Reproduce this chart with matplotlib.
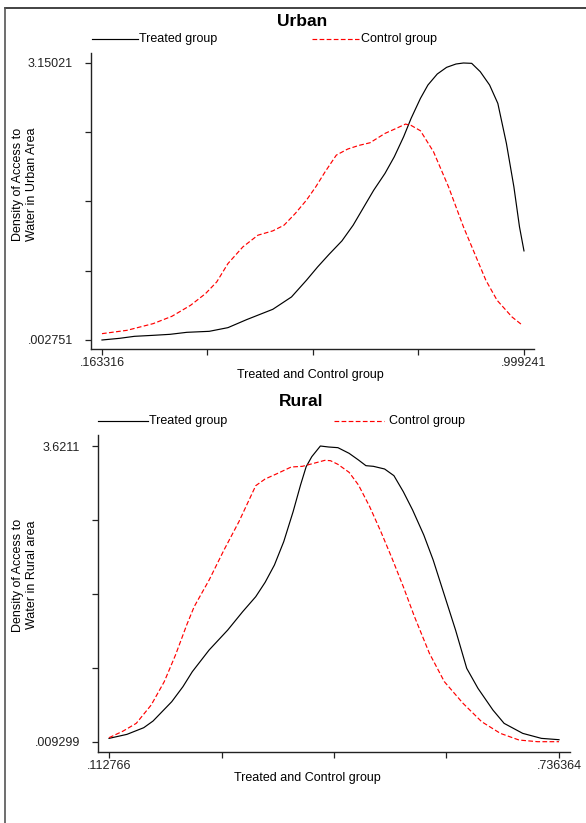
import numpy as np
import matplotlib
matplotlib.use("Agg")
import matplotlib.pyplot as plt
from matplotlib.lines import Line2D

plt.rcParams['font.family'] = ['Liberation Sans', 'DejaVu Sans']

# ---- data (kernel densities) ----
urban_tr_x = [0.1633, 0.1981, 0.2277, 0.2647, 0.2981, 0.3314, 0.3758, 0.4128, 0.4498, 0.5017,
              0.5387, 0.5683, 0.5905, 0.6127, 0.6386, 0.6608, 0.6868, 0.7016, 0.7238, 0.7423,
              0.7608, 0.7756, 0.7941, 0.8089, 0.8274, 0.8459, 0.8645, 0.8793, 0.8956, 0.9126,
              0.9311, 0.9474, 0.9644, 0.9792, 0.9903, 0.9992]
urban_tr_y = [0.0028, 0.0217, 0.0445, 0.0558, 0.0672, 0.0900, 0.1013, 0.1431, 0.2341, 0.3516,
              0.4919, 0.6815, 0.8332, 0.9735, 1.1290, 1.3072, 1.5613, 1.7053, 1.8950, 2.0846,
              2.3121, 2.5207, 2.7482, 2.8998, 3.0250, 3.1008, 3.1387, 3.1502, 3.1463, 3.0515,
              2.8998, 2.6912, 2.2362, 1.7433, 1.2882, 1.0152]

urban_ct_x = [0.1633, 0.2129, 0.2647, 0.3018, 0.3388, 0.3684, 0.3906, 0.4128, 0.4424, 0.4721,
              0.5017, 0.5239, 0.5461, 0.5683, 0.5868, 0.6053, 0.6275, 0.6498, 0.6720, 0.6942,
              0.7238, 0.7460, 0.7645, 0.7756, 0.7941, 0.8200, 0.8497, 0.8793, 0.9015, 0.9237,
              0.9459, 0.9755, 0.9963]
urban_ct_y = [0.0748, 0.1127, 0.1886, 0.2720, 0.3971, 0.5298, 0.6625, 0.8711, 1.0607, 1.1934,
              1.2427, 1.3072, 1.4399, 1.5916, 1.7433, 1.9139, 2.1035, 2.1718, 2.2135, 2.2438,
              2.3500, 2.4068, 2.4562, 2.4410, 2.3803, 2.1414, 1.7433, 1.2882, 0.9849, 0.6815,
              0.4540, 0.2644, 0.1696]

rural_tr_x = [0.1128, 0.1376, 0.1609, 0.1738, 0.1997, 0.2152, 0.2282, 0.2515, 0.2773, 0.2980,
              0.3161, 0.3291, 0.3420, 0.3549, 0.3679, 0.3782, 0.3860, 0.3938, 0.4057, 0.4171,
              0.4300, 0.4455, 0.4585, 0.4688, 0.4792, 0.4947, 0.5076, 0.5206, 0.5335, 0.5490,
              0.5620, 0.5775, 0.5930, 0.6085, 0.6241, 0.6448, 0.6603, 0.6861, 0.7120, 0.7364]
rural_tr_y = [0.0500, 0.0989, 0.1803, 0.2618, 0.4979, 0.6812, 0.8644, 1.1291, 1.3734, 1.5974,
              1.7806, 1.9557, 2.1675, 2.4525, 2.8190, 3.1447, 3.3687, 3.4909, 3.6211, 3.6089,
              3.6008, 3.5316, 3.4501, 3.3809, 3.3728, 3.3402, 3.2588, 3.0633, 2.8393, 2.5339,
              2.2285, 1.8010, 1.3734, 0.9051, 0.6608, 0.3961, 0.2333, 0.1111, 0.0500, 0.0337]

rural_ct_x = [0.1128, 0.1324, 0.1505, 0.1712, 0.1893, 0.2049, 0.2204, 0.2308, 0.2515, 0.2721,
              0.2928, 0.3161, 0.3291, 0.3446, 0.3653, 0.3808, 0.3964, 0.4119, 0.4196, 0.4300,
              0.4455, 0.4585, 0.4740, 0.4895, 0.5050, 0.5206, 0.5361, 0.5568, 0.5775, 0.6034,
              0.6292, 0.6551, 0.6810, 0.7068, 0.7364]
rural_ct_y = [0.0582, 0.1396, 0.2333, 0.4572, 0.7423, 1.0680, 1.4345, 1.6585, 1.9842, 2.3507,
              2.6968, 3.1366, 3.2180, 3.2791, 3.3646, 3.3728, 3.4094, 3.4461, 3.4420, 3.3972,
              3.2995, 3.1447, 2.8801, 2.5747, 2.2489, 1.9028, 1.5363, 1.0884, 0.7423, 0.4776,
              0.2536, 0.1111, 0.0297, 0.0093, 0.0093]

urban_xrange = [0.163316, 0.999241]
urban_yrange = [0.002751, 3.15021]
urban_xlabels = ['.163316', '', '', '', '.999241']
urban_ylabels = ['.002751', '', '', '', '3.15021']

rural_xrange = [0.112766, 0.736364]
rural_yrange = [0.009299, 3.6211]
rural_xlabels = ['.112766', '', '', '', '.736364']
rural_ylabels = ['.009299', '', '', '', '3.6211']

W, H = 586, 823
fig = plt.figure(figsize=(W / 100, H / 100), dpi=100)


def fx(px):
    return px / W


def fy(py):
    return 1 - py / H


def panel(box, xr, yr, xlabs, ylabs, tr, ct, pad_x, pad_y):
    l, t, r, b = box
    ax = fig.add_axes([fx(l), fy(b), (r - l) / W, (b - t) / H])
    ax.plot(tr[0], tr[1], color='black', lw=0.85)
    ax.plot(ct[0], ct[1], color='red', lw=0.85, linestyle=(0, (4, 2)))
    ax.set_xlim(xr[0] - pad_x[0], xr[1] + pad_x[1])
    ax.set_ylim(yr[0] - pad_y[0], yr[1] + pad_y[1])
    ax.set_xticks(np.linspace(xr[0], xr[1], 5))
    ax.set_xticklabels(xlabs)
    ax.set_yticks(np.linspace(yr[0], yr[1], 5))
    ax.set_yticklabels(ylabs)
    for s in ['top', 'right']:
        ax.spines[s].set_visible(False)
    for s in ['left', 'bottom']:
        ax.spines[s].set_linewidth(1.0)
        ax.spines[s].set_color('#222222')
    ax.tick_params(axis='x', length=4.5, width=0.9, pad=1, labelsize=9, colors='#222222')
    ax.tick_params(axis='y', length=4.5, width=0.9, pad=8.5, labelsize=9, colors='#222222')
    ax.patch.set_alpha(0)
    return ax


panel((91, 53, 534, 349), urban_xrange, urban_yrange, urban_xlabels, urban_ylabels,
      (urban_tr_x, urban_tr_y), (urban_ct_x, urban_ct_y),
      (0.02175, 0.0198), (0.1023, 0.1136))
panel((98, 435, 570, 752), rural_xrange, rural_yrange, rural_xlabels, rural_ylabels,
      (rural_tr_x, rural_tr_y), (rural_ct_x, rural_ct_y),
      (0.01525, 0.01525), (0.1258, 0.1344))


def legend(y, black, red):
    fig.add_artist(Line2D([fx(black[0]), fx(black[1])], [fy(y)] * 2, color='black', lw=0.85))
    fig.text(fx(black[2]), fy(y), 'Treated group', fontsize=9, va='center', ha='left')
    fig.add_artist(Line2D([fx(red[0]), fx(red[1])], [fy(y)] * 2, color='red', lw=0.85,
                          linestyle=(0, (4, 2))))
    fig.text(fx(red[2]), fy(y), 'Control group', fontsize=9, va='center', ha='left')


# Urban texts
fig.text(fx(302), fy(21), 'Urban', fontsize=12.5, fontweight='bold', ha='center', va='center')
legend(39, (92, 138, 139), (312, 359, 361))
fig.text(fx(310), fy(375), 'Treated and Control group', fontsize=9, ha='center', va='center')
fig.text(fx(25), fy(184), 'Density of Access to\nWater in Urban Area', fontsize=9,
         rotation=90, ha='center', va='center', linespacing=1.3)

# Rural texts
fig.text(fx(301), fy(402), 'Rural', fontsize=12.5, fontweight='bold', ha='center', va='center')
legend(421, (98, 148, 149), (334, 384, 389))
fig.text(fx(307), fy(778), 'Treated and Control group', fontsize=9, ha='center', va='center')
fig.text(fx(25), fy(575), 'Density of Access to\nWater in Rural area', fontsize=9,
         rotation=90, ha='center', va='center', linespacing=1.3)

# outer frame (top and left edges)
fig.add_artist(Line2D([fx(5), 1], [fy(8)] * 2, color='#222222', lw=1.2))
fig.add_artist(Line2D([fx(5)] * 2, [0, fy(8)], color='#555555', lw=1.2))

fig.savefig('out.png', dpi=100)
